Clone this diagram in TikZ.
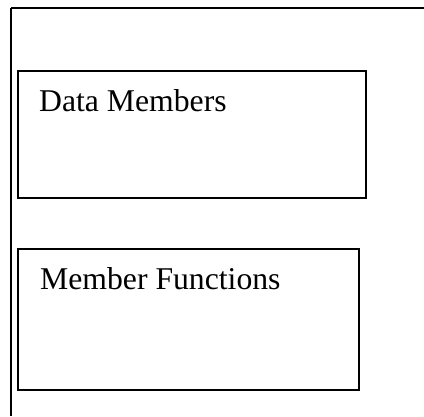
\documentclass[tikz,border=0pt]{standalone}
\usepackage{fontspec}
\setmainfont{Liberation Serif}
\usepackage{tikz}

\begin{document}
\begin{tikzpicture}[
x=1pt,y=-1pt,
membox/.style={
  draw,
  line width=1.6pt,
  anchor=north west,
  inner sep=0pt
  },
memtext/.style={
  anchor=base west,
  inner sep=0pt,
  font=\fontsize{31.7}{38}\selectfont
  }
]
\useasboundingbox (0,0) rectangle (424,416);
% class frame, open to the right and below
\coordinate (frametr) at (424,8);
\coordinate (frametl) at (11,8);
\coordinate (framebl) at (11,416);
\draw[line width=2.2pt] (frametr) -- (frametl);
\draw[line width=1.6pt] (frametl) -- (framebl);
\node[membox,minimum width=348pt,minimum height=127pt] (data) at (17,70) {};
\node[membox,minimum width=341pt,minimum height=141pt] (func) at (17,248) {};
\node[memtext] (datalabel) at (39,111) {Data Members};
\node[memtext] (funclabel) at (40,289) {Member Functions};
\end{tikzpicture}
\end{document}
